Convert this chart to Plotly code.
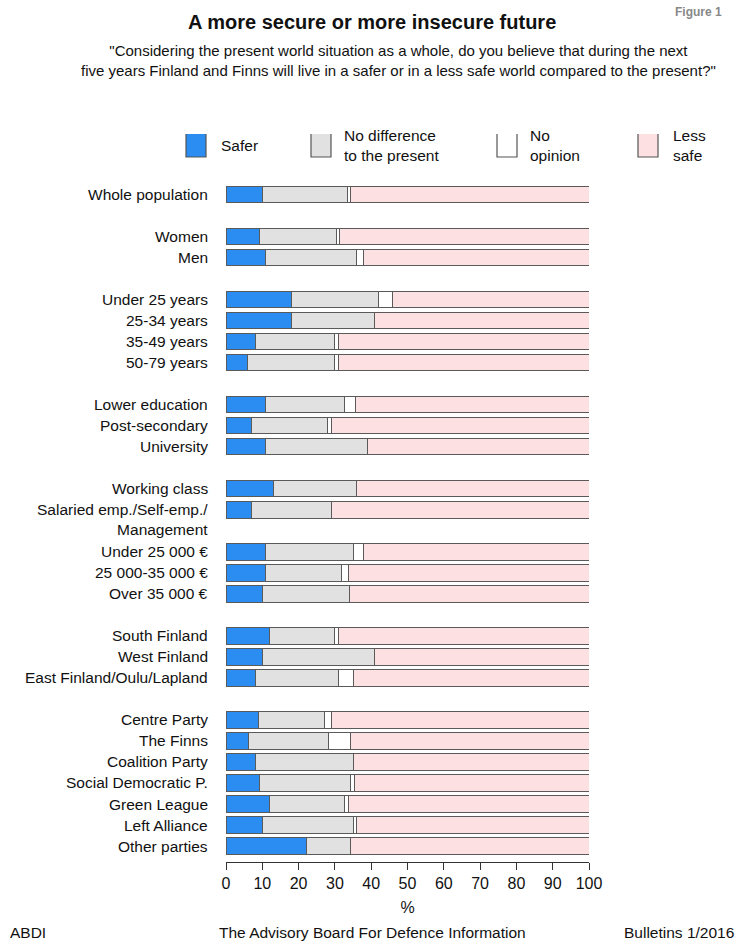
import plotly.graph_objects as go

categories = ["Whole population", "Women", "Men", "Under 25 years", "25-34 years",
              "35-49 years", "50-79 years", "Lower education", "Post-secondary",
              "University", "Working class", "Salaried emp./Self-emp./<br>Management",
              "Under 25 000 €", "25 000-35 000 €", "Over 35 000 €", "South Finland",
              "West Finland", "East Finland/Oulu/Lapland", "Centre Party", "The Finns",
              "Coalition Party", "Social Democratic P.", "Green League", "Left Alliance",
              "Other parties"]
row_pos = [0, 2, 3, 5, 6, 7, 8, 10, 11, 12, 14, 15, 17, 18, 19, 21, 22, 23,
           25, 26, 27, 28, 29, 30, 31]

safer = [10, 9, 11, 18, 18, 8, 6, 11, 7, 11, 13, 7, 11, 11, 10, 12, 10, 8, 9, 6, 8, 9, 12, 10, 22]
no_diff = [23, 21, 25, 24, 23, 22, 24, 22, 21, 28, 23, 22, 24, 21, 24, 18, 31, 23, 18, 22, 27, 25, 21, 25, 12]
no_opinion = [1, 1, 2, 4, 0, 1, 1, 3, 1, 0, 0, 0, 3, 2, 0, 1, 0, 4, 2, 6, 0, 1, 1, 1, 0]
less_safe = [65, 68, 62, 54, 59, 69, 69, 65, 71, 61, 64, 71, 62, 67, 66, 69, 59, 65, 71, 65, 65, 64, 67, 64, 65]

series_names = ["Safer", "No difference<br>to the present", "No<br>opinion", "Less<br>safe"]
series_values = [safer, no_diff, no_opinion, less_safe]
series_colors = ["#2b8df2", "#e1e1e1", "#ffffff", "#fde1e2"]

FONT = "Liberation Sans, Arial, Helvetica, sans-serif"
FS = 15.5

fig = go.Figure()
for name, vals, col in zip(series_names, series_values, series_colors):
    fig.add_trace(go.Bar(
        y=row_pos, x=vals, orientation="h", name=name,
        marker=dict(color=col, line=dict(color="#5a5a5a", width=1)),
        width=0.78, showlegend=False, hoverinfo="x+name"))

W, H = 744, 944
L, R = 226, 589
T, B = 182, 862

fig.update_layout(
    width=W, height=H, barmode="stack", barnorm="percent",
    margin=dict(l=L, r=W - R, t=T, b=H - B, pad=0),
    paper_bgcolor="white", plot_bgcolor="white",
    font=dict(family=FONT, size=FS, color="#111"),
    xaxis=dict(range=[0, 100], tickvals=list(range(0, 101, 10)), showgrid=False,
               zeroline=False, showline=True, linecolor="#333", linewidth=1,
               ticks="outside", ticklen=7, tickcolor="#333",
               tickfont=dict(size=16, family=FONT),
               title=dict(text="%", font=dict(size=16, family=FONT), standoff=10)),
    yaxis=dict(range=[31.76, -0.6], showticklabels=False, showgrid=False,
               zeroline=False, showline=False),
)


def px(x):
    return (x - L) / (R - L)


def py(y):
    return (B - y) / (B - T)


ann = []
# category labels
for cat, y in zip(categories, row_pos):
    ann.append(dict(text=cat, x=px(210), xref="paper", y=y, yref="y",
                    xanchor="right", yanchor="middle", showarrow=False, align="right",
                    yshift=-10 if "<br>" in cat else 0,
                    font=dict(size=FS, family=FONT, color="#111")))
# value columns
col_x = [105.8, 116.0, 126.2, 136.6]
for cx, vals in zip(col_x, series_values):
    for v, y in zip(vals, row_pos):
        ann.append(dict(text=str(v), x=cx, xref="x", y=y, yref="y",
                        xanchor="center", yanchor="middle", showarrow=False,
                        font=dict(size=FS, family=FONT, color="#111")))

# titles
ann.append(dict(text="<b>A more secure or more insecure future</b>", x=px(372), y=py(22),
                xref="paper", yref="paper", xanchor="center", yanchor="middle",
                showarrow=False, font=dict(size=20, family=FONT, color="#111")))
ann.append(dict(text="\"Considering the present world situation as a whole, do you believe that during the next<br>"
                     "five years Finland and Finns will live in a safer or in a less safe world compared to the present?\"",
                x=px(398), y=py(61), xref="paper", yref="paper", xanchor="center", yanchor="middle",
                showarrow=False, align="center",
                font=dict(size=15, family=FONT, color="#111")))
ann.append(dict(text="<b>Figure 1</b>", x=px(724), y=py(12), xref="paper", yref="paper",
                xanchor="right", yanchor="middle", showarrow=False,
                font=dict(size=12, family=FONT, color="#888")))
# footer
ann.append(dict(text="ABDI", x=px(8), y=py(932), xref="paper", yref="paper",
                xanchor="left", yanchor="middle", showarrow=False,
                font=dict(size=FS, family=FONT, color="#111")))
ann.append(dict(text="The Advisory Board For Defence Information", x=px(372), y=py(932),
                xref="paper", yref="paper", xanchor="center", yanchor="middle", showarrow=False,
                font=dict(size=FS, family=FONT, color="#111")))
ann.append(dict(text="Bulletins 1/2016", x=px(736), y=py(932), xref="paper", yref="paper",
                xanchor="right", yanchor="middle", showarrow=False,
                font=dict(size=FS, family=FONT, color="#111")))

# legend (custom)
shapes = []
leg_boxes = [(186, 219), (311, 342), (497, 528), (638, 671)]
for (bx, tx), name, col in zip(leg_boxes, series_names, series_colors):
    shapes.append(dict(type="rect", xref="paper", yref="paper",
                       x0=px(bx), x1=px(bx + 20), y0=py(157), y1=py(134),
                       fillcolor=col, line=dict(width=0)))
    shapes.append(dict(type="path", xref="paper", yref="paper",
                       path=f"M {px(bx)} {py(134)} L {px(bx)} {py(157)} L {px(bx + 20)} {py(157)} L {px(bx + 20)} {py(134)}",
                       line=dict(color="#555", width=1.2)))
    ann.append(dict(text=name, x=px(tx), y=py(146), xref="paper", yref="paper",
                    xanchor="left", yanchor="middle", showarrow=False, align="left",
                    font=dict(size=FS, family=FONT, color="#111")))

fig.update_layout(annotations=ann, shapes=shapes)
fig.write_html("out.html", config={"displayModeBar": False},
               post_script="document.body.style.margin='0';")
